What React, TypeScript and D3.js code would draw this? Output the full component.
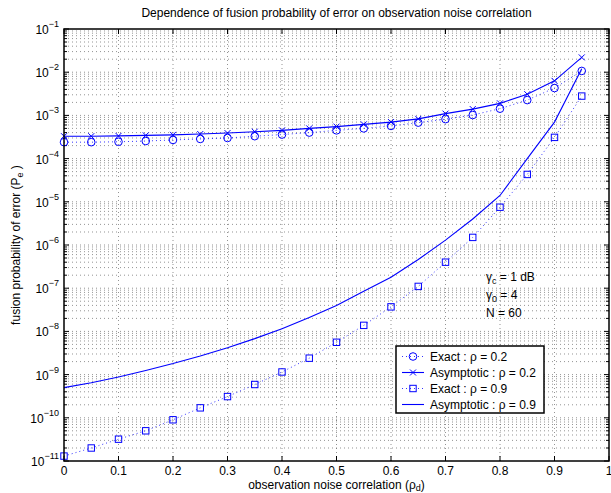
import React from 'react';
import * as d3 from 'd3';

// observation noise correlation values (x)
const rhoD = [0, 0.05, 0.1, 0.15, 0.2, 0.25, 0.3, 0.35, 0.4, 0.45, 0.5, 0.55, 0.6, 0.65, 0.7, 0.75, 0.8, 0.85, 0.9, 0.95];

// fusion probability of error
const exact02 = [2.4e-4, 2.4e-4, 2.45e-4, 2.55e-4, 2.7e-4, 2.85e-4, 3.0e-4, 3.3e-4, 3.6e-4, 4.0e-4, 4.5e-4, 5.0e-4, 5.7e-4, 6.8e-4, 8.2e-4, 1.02e-3, 1.43e-3, 2.26e-3, 4.3e-3, 1.07e-2];
const asym02 = [3.3e-4, 3.3e-4, 3.35e-4, 3.45e-4, 3.55e-4, 3.7e-4, 3.9e-4, 4.2e-4, 4.5e-4, 5.0e-4, 5.5e-4, 6.2e-4, 7.0e-4, 8.3e-4, 1.1e-3, 1.4e-3, 1.9e-3, 3.1e-3, 6.3e-3, 2.2e-2];
const exact09 = [1.3e-11, 2.0e-11, 3.2e-11, 5.0e-11, 9.0e-11, 1.7e-10, 3.1e-10, 5.9e-10, 1.15e-9, 2.4e-9, 5.6e-9, 1.38e-8, 3.7e-8, 1.1e-7, 4.0e-7, 1.5e-6, 7.5e-6, 4.3e-5, 3.1e-4, 2.8e-3];
const asym09 = [5.0e-10, 6.5e-10, 8.8e-10, 1.25e-9, 1.8e-9, 2.7e-9, 4.2e-9, 6.8e-9, 1.15e-8, 2.1e-8, 4.0e-8, 8.5e-8, 1.8e-7, 4.6e-7, 1.3e-6, 4.0e-6, 1.4e-5, 1.0e-4, 7.0e-4, 1.2e-2];

const xTicks = [0, 0.1, 0.2, 0.3, 0.4, 0.5, 0.6, 0.7, 0.8, 0.9, 1];
const yExponents = [-11, -10, -9, -8, -7, -6, -5, -4, -3, -2, -1];
const legendLabels = ['Exact : \u03c1 = 0.2', 'Asymptotic : \u03c1 = 0.2', 'Exact : \u03c1 = 0.9', 'Asymptotic : \u03c1 = 0.9'];

const W = 611;
const H = 493;
const margin = { top: 29, right: 2, bottom: 32, left: 64 };
const font = 'Liberation Sans, Arial, Helvetica, sans-serif';
const blue = '#0000ff';
const fs = 12;
const fsSmall = 9;

export default function App() {
  const x = d3.scaleLinear().domain([0, 1]).range([margin.left, W - margin.right]);
  const y = d3.scaleLog().domain([1e-11, 1e-1]).range([H - margin.bottom, margin.top]);

  const x0 = x(0), x1 = x(1), y0 = y(1e-11), y1 = y(1e-1);

  const minors: number[] = [];
  yExponents.slice(0, -1).forEach(e => {
    for (let k = 2; k <= 9; k++) minors.push(k * Math.pow(10, e));
  });

  const line = d3.line<number>().x((d, i) => x(rhoD[i])).y(d => y(d));

  const crossPath = (cx: number, cy: number, s = 3) =>
    `M${cx - s},${cy - s}L${cx + s},${cy + s}M${cx - s},${cy + s}L${cx + s},${cy - s}`;

  const lgX = 396, lgY = 346, lgW = 148, lgH = 67;
  const rowY = (i: number) => lgY + 10.5 + i * 16;

  return (
    <svg width={W} height={H} style={{ position: 'absolute', left: 0, top: 0, background: '#fff' }}
      fontFamily={font}>
      <rect x={0} y={0} width={W} height={H} fill="#fff" />

      {/* grid */}
      <g stroke="#000" strokeWidth={0.6} strokeDasharray="1,3" opacity={0.7}>
        {minors.map((v, i) => (
          <line key={'mn' + i} x1={x0} x2={x1} y1={y(v)} y2={y(v)} />
        ))}
        {yExponents.slice(1, -1).map(e => (
          <line key={'mj' + e} x1={x0} x2={x1} y1={y(Math.pow(10, e))} y2={y(Math.pow(10, e))} />
        ))}
        {xTicks.slice(1, -1).map(t => (
          <line key={'vx' + t} x1={x(t)} x2={x(t)} y1={y0} y2={y1} />
        ))}
      </g>

      {/* ticks */}
      <g stroke="#000" strokeWidth={1}>
        {xTicks.map(t => (
          <g key={'xt' + t}>
            <line x1={x(t)} x2={x(t)} y1={y0} y2={y0 - 5} />
            <line x1={x(t)} x2={x(t)} y1={y1} y2={y1 + 5} />
          </g>
        ))}
        {yExponents.map(e => (
          <g key={'yt' + e}>
            <line x1={x0} x2={x0 + 5} y1={y(Math.pow(10, e))} y2={y(Math.pow(10, e))} />
            <line x1={x1} x2={x1 - 5} y1={y(Math.pow(10, e))} y2={y(Math.pow(10, e))} />
          </g>
        ))}
        {minors.map((v, i) => (
          <g key={'ymt' + i}>
            <line x1={x0} x2={x0 + 3} y1={y(v)} y2={y(v)} />
            <line x1={x1} x2={x1 - 3} y1={y(v)} y2={y(v)} />
          </g>
        ))}
      </g>

      {/* series */}
      <g fill="none" stroke={blue}>
        <path d={line(exact02) || ''} strokeWidth={0.8} strokeDasharray="1,3" />
        <path d={line(exact09) || ''} strokeWidth={0.8} strokeDasharray="1,3" />
        <path d={line(asym02) || ''} strokeWidth={1.1} />
        <path d={line(asym09) || ''} strokeWidth={1.1} />
        {exact02.map((v, i) => (
          <circle key={'c' + i} cx={x(rhoD[i])} cy={y(v)} r={3.8} strokeWidth={1} />
        ))}
        {asym02.map((v, i) => (
          <path key={'x' + i} d={crossPath(x(rhoD[i]), y(v))} strokeWidth={1} />
        ))}
        {exact09.map((v, i) => (
          <rect key={'s' + i} x={x(rhoD[i]) - 3.2} y={y(v) - 3.2} width={6.4} height={6.4} strokeWidth={1} />
        ))}
      </g>

      {/* axes box */}
      <rect x={x0} y={y1} width={x1 - x0} height={y0 - y1} fill="none" stroke="#000" strokeWidth={1.5} />

      {/* y tick labels */}
      <g fontSize={fs} fill="#000">
        {yExponents.map(e => (
          <text key={'yl' + e} x={x0 - 5} y={y(Math.pow(10, e)) + 5} textAnchor="end">
            10<tspan dy={-7} fontSize={fsSmall}>{'\u2212' + Math.abs(e)}</tspan>
          </text>
        ))}
      </g>

      {/* x tick labels */}
      <g fontSize={fs} fill="#000" textAnchor="middle">
        {xTicks.map(t => (
          <text key={'xl' + t} x={x(t)} y={y0 + 14}>{d3.format('~g')(t)}</text>
        ))}
      </g>

      {/* annotation */}
      <g fontSize={fs} fill="#000">
        <text x={486} y={281}>{'\u03b3'}<tspan dy={3} fontSize={fsSmall}>c</tspan><tspan dy={-3}> = 1 dB</tspan></text>
        <text x={486} y={299}>{'\u03b3'}<tspan dy={3} fontSize={fsSmall}>0</tspan><tspan dy={-3}> = 4</tspan></text>
        <text x={486} y={317}>N = 60</text>
      </g>

      {/* legend */}
      <g>
        <rect x={lgX} y={lgY} width={lgW} height={lgH} fill="#fff" stroke="#000" strokeWidth={1.5} />
        <g fill="none" stroke={blue} strokeWidth={1}>
          <line x1={lgX + 6} x2={lgX + 28} y1={rowY(0)} y2={rowY(0)} strokeDasharray="1,3" strokeWidth={0.8} />
          <circle cx={lgX + 17} cy={rowY(0)} r={3.8} />
          <line x1={lgX + 6} x2={lgX + 28} y1={rowY(1)} y2={rowY(1)} strokeWidth={1.1} />
          <path d={crossPath(lgX + 17, rowY(1))} />
          <line x1={lgX + 6} x2={lgX + 28} y1={rowY(2)} y2={rowY(2)} strokeDasharray="1,3" strokeWidth={0.8} />
          <rect x={lgX + 17 - 3.2} y={rowY(2) - 3.2} width={6.4} height={6.4} />
          <line x1={lgX + 6} x2={lgX + 28} y1={rowY(3)} y2={rowY(3)} strokeWidth={1.1} />
        </g>
        <g fontSize={fs} fill="#000">
          {legendLabels.map((l, i) => (
            <text key={'lg' + i} x={lgX + 34} y={rowY(i) + 4.5}>{l}</text>
          ))}
        </g>
      </g>

      {/* title and axis labels */}
      <text x={(x0 + x1) / 2} y={17} fontSize={fs} textAnchor="middle" fill="#000">
        Dependence of fusion probability of error on observation noise correlation
      </text>
      <text x={(x0 + x1) / 2} y={489} fontSize={fs} textAnchor="middle" fill="#000">
        observation noise correlation ({'\u03c1'}<tspan dy={2} fontSize={fsSmall}>d</tspan><tspan dy={-2}>)</tspan>
      </text>
      <text transform={`translate(20,${(y0 + y1) / 2}) rotate(-90)`} fontSize={fs} textAnchor="middle" fill="#000">
        fusion probability of error (P<tspan dy={3} fontSize={fsSmall}>e</tspan><tspan dy={-3}> )</tspan>
      </text>
    </svg>
  );
}
